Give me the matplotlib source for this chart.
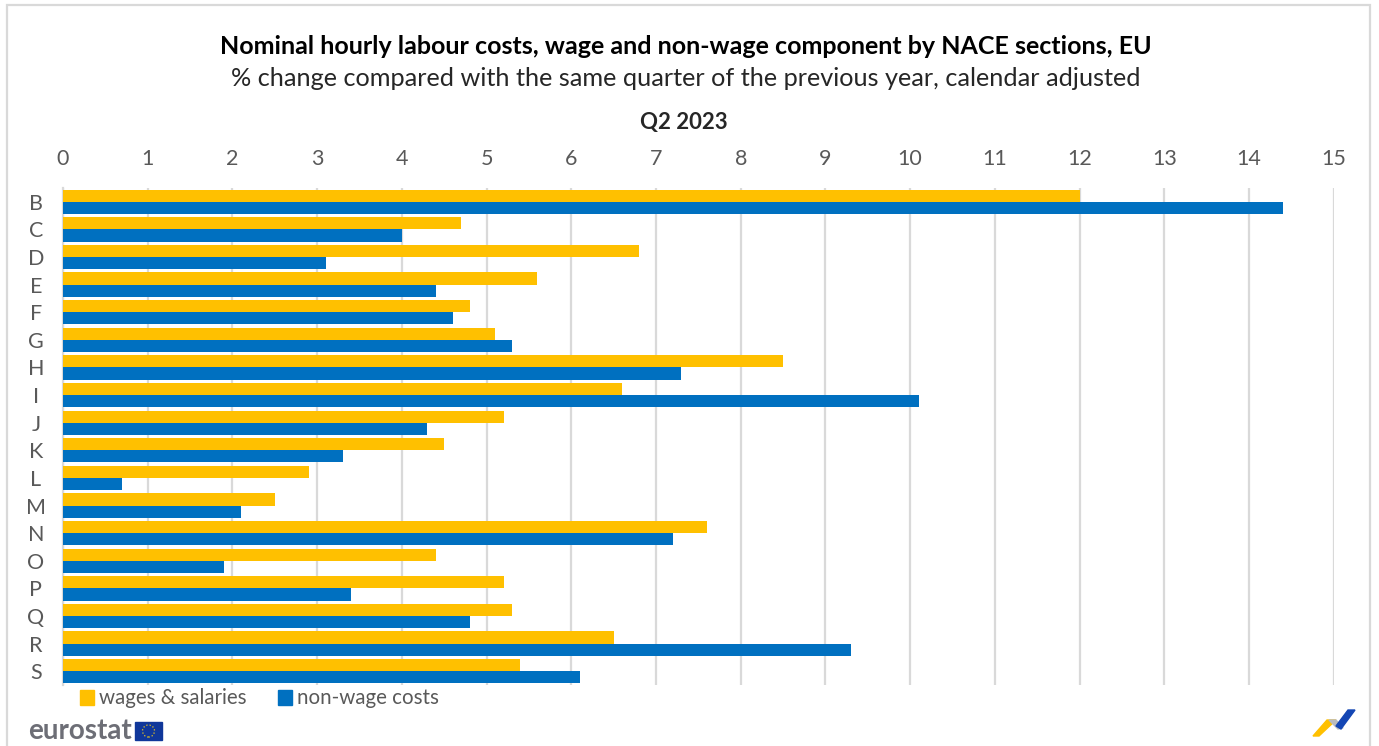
import matplotlib
matplotlib.use("Agg")
import matplotlib.pyplot as plt
from matplotlib.patches import Polygon, Rectangle, Ellipse

plt.rcParams['font.family'] = ['Lato', 'DejaVu Sans']

sections = ['B', 'C', 'D', 'E', 'F', 'G', 'H', 'I', 'J', 'K', 'L', 'M', 'N', 'O', 'P', 'Q', 'R', 'S']
wages = [12.0, 4.7, 6.8, 5.6, 4.8, 5.1, 8.5, 6.6, 5.2, 4.5, 2.9, 2.5, 7.6, 4.4, 5.2, 5.3, 6.5, 5.4]
non_wage = [14.4, 4.0, 3.1, 4.4, 4.6, 5.3, 7.3, 10.1, 4.3, 3.3, 0.7, 2.1, 7.2, 1.9, 3.4, 4.8, 9.3, 6.1]
xticks = list(range(16))

W, H = 1379, 746
YELLOW = '#FFC000'
BLUE = '#0070C0'
TXT = '#595959'
GRID = '#D9D9D9'


def fx(px):
    return px / W


def fy(py):
    return 1 - py / H


fig = plt.figure(figsize=(W / 100, H / 100), dpi=100, facecolor='white')
ax = fig.add_axes([fx(63), fy(685), (1333.7 - 63) / W, (685 - 188) / H])

pos = list(range(len(sections)))
h = 0.44
ax.barh([p - h / 2 for p in pos], wages, height=h, color=YELLOW, zorder=3)
ax.barh([p + h / 2 for p in pos], non_wage, height=h, color=BLUE, zorder=3)

ax.set_xlim(0, 15)
ax.set_ylim(len(sections) - 0.5, -0.5)
ax.set_xticks(xticks)
ax.set_yticks(pos)
ax.set_yticklabels(sections, ha='center')
ax.xaxis.tick_top()
ax.grid(axis='x', color=GRID, lw=1.6, zorder=0)
ax.tick_params(axis='x', length=0, pad=13.5, labelsize=15.5, labelcolor=TXT)
ax.tick_params(axis='y', length=0, pad=19.5, labelsize=15.5, labelcolor=TXT)
for s in ['top', 'right', 'bottom']:
    ax.spines[s].set_visible(False)
ax.spines['left'].set_color(GRID)
ax.spines['left'].set_linewidth(1.6)

fig.text(fx(686), fy(47), 'Nominal hourly labour costs, wage and non-wage component by NACE sections, EU',
         ha='center', va='center', fontsize=18, fontweight='bold', color='black')
fig.text(fx(686), fy(79), '% change compared with the same quarter of the previous year, calendar adjusted',
         ha='center', va='center', fontsize=18.2, color='#262626')
fig.text(fx(684), fy(122), 'Q2 2023', ha='center', va='center', fontsize=16, fontweight='bold', color='#262626')

# legend
fig.patches.append(Rectangle((fx(80), fy(705)), 14 / W, 15 / H, transform=fig.transFigure, color=YELLOW))
fig.text(fx(99), fy(698.5), 'wages & salaries', ha='left', va='center', fontsize=14.8, color=TXT)
fig.patches.append(Rectangle((fx(278), fy(705)), 14 / W, 15 / H, transform=fig.transFigure, color=BLUE))
fig.text(fx(297), fy(698.5), 'non-wage costs', ha='left', va='center', fontsize=14.8, color=TXT)

# outer frame, runs off the bottom edge
fig.patches.append(Rectangle((fx(7), -0.02), (1370 - 7) / W, fy(5) + 0.02, transform=fig.transFigure,
                             fill=False, ec='#D9D9D9', lw=1.6))

# eurostat logo
fig.text(fx(28), fy(731), 'eurostat', ha='left', va='center', fontsize=20, fontweight='bold', color='#6D6E76')
fig.patches.append(Rectangle((fx(135), fy(740)), 27 / W, 18 / H, transform=fig.transFigure, color='#10379A'))
fig.patches.append(Ellipse((fx(148.5), fy(731)), 12 / W, 12 / H, transform=fig.transFigure,
                           fill=False, ec='#E8C520', lw=0.9, ls=':'))

# corner mark
marks = [([1313, 1327, 1336, 1319], [736, 720, 720, 736], YELLOW),
         ([1329, 1336, 1343, 1338], [720, 720, 728, 729], '#B9BBBF'),
         ([1336, 1348, 1355, 1341], [726, 710, 710, 729], '#1446B4')]
for xs, ys, c in marks:
    fig.patches.append(Polygon([(fx(a), fy(b)) for a, b in zip(xs, ys)], closed=True,
                               transform=fig.transFigure, color=c))

fig.savefig('out.png', dpi=100)
